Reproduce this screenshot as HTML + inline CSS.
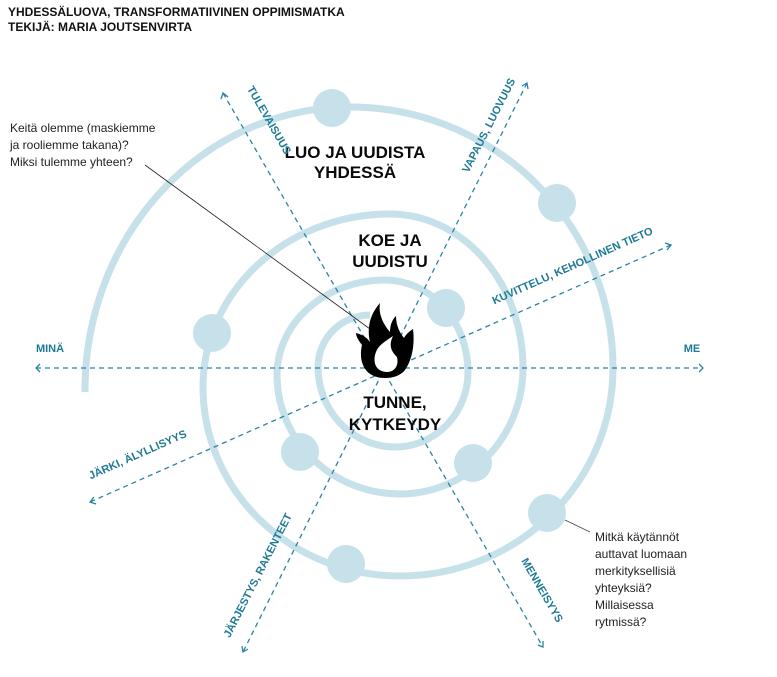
<!DOCTYPE html>
<html><head><meta charset="utf-8"><style>
html,body{margin:0;padding:0;background:#fff;width:777px;height:677px;overflow:hidden}
svg{display:block}
.t{font-family:"Liberation Sans",sans-serif;font-weight:bold;fill:#111}
.h{font-family:"Liberation Sans",sans-serif;font-weight:bold;font-size:17px;fill:#0a0a0a;text-anchor:middle}
.a{font-family:"Liberation Sans",sans-serif;font-weight:bold;font-size:11px;fill:#1f7a96;text-anchor:middle}
.q{font-family:"Liberation Sans",sans-serif;font-size:12px;fill:#222}
</style></head><body>
<svg width="777" height="677" viewBox="0 0 777 677" xmlns="http://www.w3.org/2000/svg">
<text class="t" x="8" y="16" font-size="12">YHDESSÄLUOVA, TRANSFORMATIIVINEN OPPIMISMATKA</text>
<text class="t" x="8" y="31" font-size="12">TEKIJÄ: MARIA JOUTSENVIRTA</text>

<path fill="none" stroke="#c6e1ea" stroke-width="7"
d="M85,392 A265,283 0 0 1 350,107
A263,261 0 0 1 613,368
A213,208 0 0 1 400,576
A197,189 0 0 1 203,387
A187,173 0 0 1 390,214
A133,154 0 0 1 523,368
A123,126 0 0 1 400,494
A123,119 0 0 1 277,375
A108,95 0 0 1 385,280
A83,92 0 0 1 468,372
A73,75 0 0 1 395,447
A77,80 0 0 1 318,367
A52,52 0 0 1 370,315"/>
<g fill="#c6e1ea">
<circle cx="332" cy="108" r="19"/><circle cx="557" cy="203" r="19"/><circle cx="446" cy="308" r="19"/>
<circle cx="212" cy="333" r="19"/><circle cx="300" cy="452" r="19"/><circle cx="473" cy="463" r="19"/>
<circle cx="547" cy="513" r="19"/><circle cx="346" cy="564" r="19"/>
</g>

<g stroke="#2a84a3" stroke-width="1.3" fill="none">
<g stroke-dasharray="5,4">
<line x1="36" y1="368" x2="703" y2="368"/>
<line x1="223" y1="93" x2="543" y2="647"/>
<line x1="527" y1="83" x2="243" y2="652"/>
<line x1="671" y1="245" x2="90" y2="502"/>
</g>
<polyline points="40,364 36,368 40,372"/>
<polyline points="699,364 703,368 699,372"/>
<polyline points="221,99 223,93 228,97"/>
<polyline points="538,645 543,647 543,641"/>
<polyline points="522,86 527,83 528,89"/>
<polyline points="242,646 243,652 248,649"/>
<polyline points="665,243 671,245 667,250"/>
<polyline points="94,497 90,502 96,504"/>
</g>

<line x1="145" y1="165" x2="381" y2="337" stroke="#222" stroke-width="0.8"/>
<line x1="565" y1="520" x2="590" y2="532" stroke="#444" stroke-width="0.8"/>

<path fill="#000" d="M385,378 C365,378 358,362 362,345 C358,340 356,336 356,333 C364,335 368,339 370,342 C366,325 372,312 380,303 C378,315 384,325 390,332 C390,325 392,320 396,316 C396,326 400,333 404,338 C406,334 410,331 413,329 C415,345 412,360 405,370 C400,376 393,378 385,378 Z"/>
<path fill="#fff" d="M387,372 C376,372 372,362 376,352 C378,346 384,342 393,336 C388,346 392,352 397,357 C399,365 395,372 387,372 Z"/>

<text class="h" x="355" y="158">LUO JA UUDISTA</text>
<text class="h" x="355" y="178">YHDESSÄ</text>
<text class="h" x="390" y="246">KOE JA</text>
<text class="h" x="390" y="267">UUDISTU</text>
<text class="h" x="395" y="408">TUNNE,</text>
<text class="h" x="395" y="430">KYTKEYDY</text>

<text class="a" x="50" y="352">MINÄ</text>
<text class="a" x="692" y="352">ME</text>
<text class="a" transform="translate(266,122) rotate(60)">TULEVAISUUS</text>
<text class="a" transform="translate(492,127) rotate(-63)">VAPAUS, LUOVUUS</text>
<text class="a" transform="translate(574,269) rotate(-24)">KUVITTELU, KEHOLLINEN TIETO</text>
<text class="a" transform="translate(139,458) rotate(-24)">JÄRKI, ÄLYLLISYYS</text>
<text class="a" transform="translate(261,577) rotate(-63)">JÄRJESTYS, RAKENTEET</text>
<text class="a" transform="translate(539,592) rotate(60)">MENNEISYYS</text>

<text class="q" x="10" y="132">Keitä olemme (maskiemme</text>
<text class="q" x="10" y="149">ja rooliemme takana)?</text>
<text class="q" x="10" y="166">Miksi tulemme yhteen?</text>

<text class="q" x="595" y="541">Mitkä käytännöt</text>
<text class="q" x="595" y="558">auttavat luomaan</text>
<text class="q" x="595" y="575">merkityksellisiä</text>
<text class="q" x="595" y="592">yhteyksiä?</text>
<text class="q" x="595" y="609">Millaisessa</text>
<text class="q" x="595" y="626">rytmissä?</text>
</svg>
</body></html>
